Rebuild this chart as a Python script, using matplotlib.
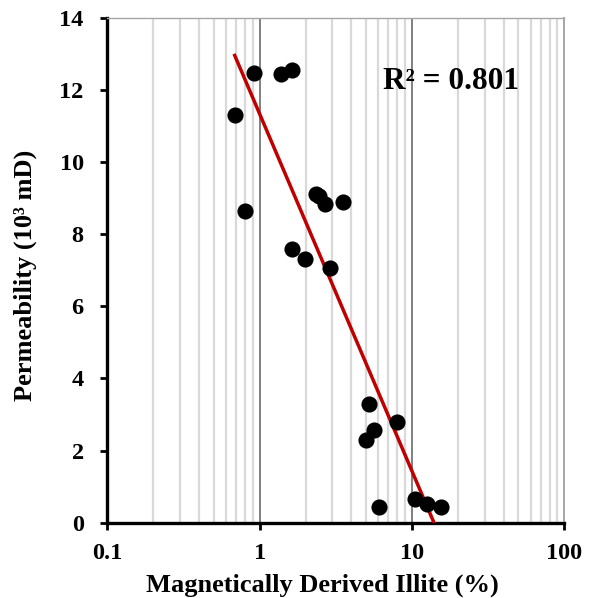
import numpy as np
import matplotlib
matplotlib.use("Agg")
import matplotlib.pyplot as plt
from matplotlib.ticker import LogLocator, FixedLocator, NullFormatter

# illite content (%) and permeability (10^3 mD)
illite = [0.686, 0.919, 1.38, 1.63, 0.802, 2.35, 2.47, 2.69, 3.51, 1.63,
          1.98, 2.90, 5.25, 5.64, 5.00, 8.02, 6.08, 10.5, 12.6, 15.5]
perm = [11.32, 12.47, 12.45, 12.56, 8.65, 9.12, 9.07, 8.83, 8.90, 7.60,
        7.32, 7.05, 3.28, 2.56, 2.29, 2.78, 0.44, 0.65, 0.52, 0.44]
r2_label = "R² = 0.801"

plt.rcParams["font.family"] = ["Liberation Serif", "DejaVu Serif"]
plt.rcParams["font.weight"] = "bold"

fig = plt.figure(figsize=(5.93, 5.98), dpi=100)
ax = fig.add_axes([0.181, 0.126, 0.7706, 0.844])

x = np.array(illite)
y = np.array(perm)

# logarithmic trendline
slope, icept = np.polyfit(np.log(x), y, 1)
xt = np.linspace(x.min(), x.max(), 200)
ax.plot(xt, slope * np.log(xt) + icept, color="#C00000", lw=2.5, zorder=3)

ax.scatter(x, y, s=135, color="black", zorder=4, linewidths=0)

ax.set_xscale("log")
ax.set_xlim(0.1, 100)
ax.set_ylim(0, 14)
ax.set_yticks(range(0, 15, 2))
ax.xaxis.set_major_locator(FixedLocator([0.1, 1, 10, 100]))
ax.set_xticklabels(["0.1", "1", "10", "100"])
ax.xaxis.set_minor_locator(LogLocator(base=10, subs=np.arange(2, 10)))
ax.xaxis.set_minor_formatter(NullFormatter())

ax.grid(False)
for v in [1, 10]:
    ax.axvline(v, color="#808080", lw=1.4, zorder=1)
for m in ax.xaxis.get_minorticklocs():
    if 0.1 < m < 100:
        ax.axvline(m, color="#d9d9d9", lw=1.6, zorder=0)

ax.tick_params(axis="x", which="minor", length=0)
ax.tick_params(axis="both", which="major", direction="out", length=5, width=2,
               labelsize=17.5)
ax.tick_params(axis="x", which="major", pad=10)
ax.tick_params(axis="y", which="major", pad=12)
for lab in ax.get_xticklabels() + ax.get_yticklabels():
    lab.set_fontweight("bold")

for side in ["left", "bottom"]:
    ax.spines[side].set_linewidth(2.4)
    ax.spines[side].set_color("black")
ax.spines["top"].set_color("#a6a6a6")
ax.spines["top"].set_linewidth(1.0)
ax.spines["right"].set_color("#a6a6a6")
ax.spines["right"].set_linewidth(1.4)

ax.set_xlabel("Magnetically Derived Illite (%)", fontsize=19, fontweight="bold")
ax.xaxis.set_label_coords(0.47, -0.10)
ax.set_ylabel("Permeability (10³ mD)", fontsize=19, fontweight="bold")
ax.yaxis.set_label_coords(-0.153, 0.49)

ax.text(0.603, 0.875, r2_label, transform=ax.transAxes, fontsize=22.5,
        fontweight="bold", va="center", ha="left", zorder=5)

fig.savefig("out.png", dpi=100)
